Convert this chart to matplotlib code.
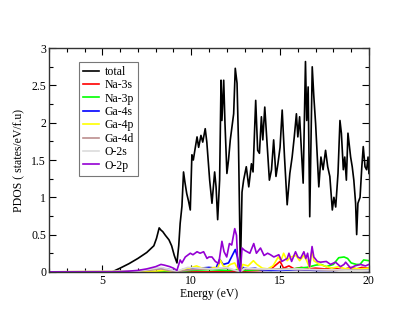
import matplotlib
matplotlib.use("Agg")
import matplotlib.pyplot as plt
from matplotlib.ticker import MultipleLocator

plt.rcParams['font.family'] = ['Liberation Serif', 'DejaVu Serif']

# total DOS
total_e = [2.0, 5.55, 6.0, 6.5, 7.0, 7.5, 7.9, 8.05, 8.2, 8.3, 8.4, 8.55, 8.75, 8.9, 9.05, 9.2,
           9.3, 9.38, 9.48, 9.57, 9.65, 9.75, 9.85, 9.95, 10.04, 10.12, 10.2, 10.33, 10.42, 10.55,
           10.65, 10.79, 10.88, 11.04, 11.17, 11.32, 11.4, 11.49, 11.6, 11.68, 11.73, 11.83, 11.9,
           12.01, 12.1, 12.2, 12.39, 12.48, 12.58, 12.66, 12.72, 12.77, 12.86, 12.95, 13.1, 13.24,
           13.39, 13.48, 13.63, 13.74, 13.84, 13.95, 14.03, 14.14, 14.27, 14.4, 14.52, 14.64, 14.77,
           14.88, 15.0, 15.12, 15.25, 15.4, 15.55, 15.68, 15.8, 15.92, 16.0, 16.1, 16.3, 16.43,
           16.5, 16.58, 16.67, 16.81, 16.9, 17.0, 17.18, 17.3, 17.42, 17.56, 17.68, 17.8, 17.94,
           18.03, 18.13, 18.26, 18.37, 18.45, 18.56, 18.64, 18.73, 18.82, 18.97, 19.06, 19.15,
           19.25, 19.31, 19.38, 19.5, 19.6, 19.68, 19.78, 19.87, 19.95, 20.0]
total_v = [0.0, 0.0, 0.05, 0.11, 0.18, 0.26, 0.35, 0.45, 0.59, 0.56, 0.54, 0.49, 0.43, 0.35, 0.22, 0.12,
           0.35, 0.65, 0.88, 1.34, 1.2, 1.05, 0.95, 0.83, 1.57, 1.5, 1.62, 1.81, 1.67, 1.83,
           1.74, 1.92, 1.74, 1.23, 0.92, 1.34, 1.14, 0.70, 1.23, 2.57, 2.03, 2.57, 2.0,
           1.32, 1.5, 1.77, 2.12, 2.73, 2.53, 1.74, 0.8, 0.03, 1.07, 1.23, 1.41, 1.14,
           1.45, 1.34, 2.30, 1.63, 1.59, 2.08, 1.77, 2.21, 1.72, 1.23, 1.37, 1.77, 1.28,
           1.45, 1.67, 2.17, 1.54, 0.90, 1.32, 1.54, 1.81, 2.12, 1.81, 2.08, 1.19, 2.82,
           2.03, 2.48, 0.74, 2.75, 2.35, 1.99, 1.14, 1.54, 1.37, 1.63, 1.41, 1.28, 0.83,
           1.0, 0.87, 1.32, 2.03, 1.86, 1.37, 1.54, 1.23, 1.86, 1.54, 1.41, 1.23,
           0.92, 0.5, 0.92, 1.0, 1.41, 1.68, 1.41, 1.37, 1.54, 1.32]

na3s_e = [2, 11, 12, 13, 14, 14.5, 14.8, 15.0, 15.2, 15.5, 15.8, 16.2, 16.6, 17, 17.5, 18, 18.5,
          19, 19.3, 19.6, 20]
na3s_v = [0, 0.0, 0.01, 0.01, 0.02, 0.04, 0.1, 0.14, 0.05, 0.08, 0.04, 0.06, 0.04, 0.05, 0.04, 0.05,
          0.03, 0.06, 0.04, 0.06, 0.05]

na3p_e = [2, 9.2, 10, 11, 12, 12.6, 13, 14, 14.5, 15, 15.5, 16, 16.5, 17, 17.3, 17.6, 18, 18.3,
          18.6, 18.8, 19.0, 19.3, 19.5, 19.7, 20]
na3p_v = [0, 0.0, 0.02, 0.03, 0.02, 0.03, 0.02, 0.03, 0.02, 0.04, 0.03, 0.05, 0.06, 0.09, 0.1, 0.07,
          0.1, 0.19, 0.2, 0.18, 0.12, 0.1, 0.1, 0.16, 0.15]

ga4s_e = [2, 6.0, 7.5, 8.3, 8.8, 9.2, 9.5, 10.0, 10.5, 11.0, 11.4, 11.6, 11.8, 12.1, 12.48, 12.6,
          12.77, 12.9, 13.2, 13.6, 14.0, 14.5, 15.0, 16.0, 17.0, 18.0, 19.0, 20]
ga4s_v = [0, 0.0, 0.02, 0.05, 0.03, 0.0, 0.03, 0.04, 0.05, 0.06, 0.05, 0.17, 0.1, 0.12, 0.3, 0.2,
          0.0, 0.06, 0.04, 0.05, 0.02, 0.02, 0.02, 0.03, 0.02, 0.02, 0.03, 0.02]

ga4p_e = [2, 8.0, 8.5, 9.2, 9.5, 9.9, 10.3, 10.6, 11.0, 11.3, 11.5, 11.64, 11.8, 12.0, 12.2, 12.45,
          12.6, 12.77, 12.9, 13.2, 13.5, 13.7, 14.0, 14.3, 14.6, 14.9, 15.05, 15.2, 15.4, 15.6,
          15.9, 16.1, 16.34, 16.5, 16.66, 16.8, 16.9, 17.2, 17.5, 17.9, 18.3, 18.7, 19.0, 19.5, 20]
ga4p_v = [0, 0.01, 0.02, 0.0, 0.03, 0.05, 0.08, 0.05, 0.04, 0.06, 0.05, 0.16, 0.08, 0.06, 0.1, 0.12,
          0.05, 0.0, 0.1, 0.08, 0.15, 0.1, 0.05, 0.04, 0.08, 0.2, 0.15, 0.25, 0.15, 0.2,
          0.22, 0.15, 0.22, 0.15, 0.05, 0.3, 0.15, 0.1, 0.08, 0.05, 0.07, 0.04, 0.05, 0.04, 0.05]

ga4d_e = [2, 7, 8.3, 9.2, 10, 11, 12, 12.77, 13, 14, 15, 16, 17, 18, 19, 20]
ga4d_v = [0, 0.01, 0.04, 0.0, 0.03, 0.04, 0.05, 0.0, 0.04, 0.03, 0.04, 0.03, 0.03, 0.02, 0.03, 0.02]

o2s_e = [2, 7, 8.3, 9.2, 9.8, 10.5, 11.2, 12, 12.77, 13, 14, 15, 16, 17, 18, 19, 20]
o2s_v = [0, 0.01, 0.06, 0.01, 0.06, 0.05, 0.04, 0.06, 0.0, 0.05, 0.04, 0.03, 0.04, 0.03, 0.03, 0.02, 0.02]

o2p_e = [2, 5.8, 6.5, 7.0, 7.5, 8.0, 8.3, 8.5, 8.8, 9.0, 9.2, 9.38, 9.48, 9.67, 9.95, 10.1, 10.33,
         10.5, 10.7, 10.89, 11.0, 11.17, 11.36, 11.55, 11.73, 11.85, 12.0, 12.15, 12.28, 12.45,
         12.55, 12.63, 12.77, 12.86, 13.0, 13.3, 13.52, 13.67, 13.9, 14.1, 14.3, 14.46, 14.65,
         14.93, 15.1, 15.4, 15.5, 15.65, 15.87, 16.0, 16.15, 16.34, 16.45, 16.55, 16.66, 16.8,
         16.9, 17.1, 17.28, 17.6, 17.84, 18.12, 18.4, 18.6, 18.69, 18.97, 19.2, 19.53, 19.8, 20]
o2p_v = [0, 0, 0.01, 0.02, 0.04, 0.07, 0.1, 0.09, 0.07, 0.05, 0.02, 0.16, 0.12, 0.2, 0.25, 0.23, 0.27,
         0.25, 0.27, 0.18, 0.2, 0.2, 0.14, 0.11, 0.41, 0.27, 0.2, 0.38, 0.36, 0.58,
         0.49, 0.07, 0.0, 0.32, 0.29, 0.25, 0.38, 0.25, 0.32, 0.22, 0.25, 0.23, 0.2,
         0.23, 0.14, 0.18, 0.25, 0.14, 0.27, 0.2, 0.18, 0.27, 0.18, 0.25, 0.07, 0.34,
         0.2, 0.14, 0.13, 0.14, 0.1, 0.13, 0.07, 0.1, 0.13, 0.05, 0.08, 0.1, 0.08, 0.1]

series = [
    ("total", total_e, total_v, "black"),
    ("Na-3s", na3s_e, na3s_v, "#ff0000"),
    ("Na-3p", na3p_e, na3p_v, "#00ff00"),
    ("Ga-4s", ga4s_e, ga4s_v, "#0000ff"),
    ("Ga-4p", ga4p_e, ga4p_v, "#ffff00"),
    ("Ga-4d", ga4d_e, ga4d_v, "#bc8f8f"),
    ("O-2s", o2s_e, o2s_v, "#dcdcdc"),
    ("O-2p", o2p_e, o2p_v, "#9400d3"),
]

fig = plt.figure(figsize=(4.15, 3.21), dpi=100)
ax = fig.add_axes([0.118, 0.153, 0.771, 0.697])

for name, e, v, c in series:
    ax.plot(e, v, color=c, lw=1.2, label=name)

ax.set_xlim(2, 20)
ax.set_ylim(0, 3)
ax.xaxis.set_major_locator(MultipleLocator(5))
ax.xaxis.set_minor_locator(MultipleLocator(1))
ax.yaxis.set_major_locator(MultipleLocator(0.5))
ax.yaxis.set_minor_locator(MultipleLocator(0.25))
ax.set_yticks([0, 0.5, 1, 1.5, 2, 2.5, 3])
ax.set_yticklabels(["0", "0.5", "1", "1.5", "2", "2.5", "3"])
ax.tick_params(which='both', direction='in', top=True, right=True, labelsize=8.5, pad=2)
ax.tick_params(which='major', length=5, width=0.8)
ax.tick_params(which='minor', length=3, width=0.8)
for s in ax.spines.values():
    s.set_linewidth(1.0)
    s.set_color('#333333')

ax.set_xlabel("Energy (eV)", fontsize=8.5, labelpad=1)
ax.set_ylabel("PDOS ( states/eV/f.u)", fontsize=8.5, labelpad=4)

leg = ax.legend(loc='upper left', bbox_to_anchor=(0.095, 0.94), fontsize=8.5, frameon=True,
                fancybox=False, handlelength=1.3, handletextpad=0.5, labelspacing=0.12,
                borderpad=0.35, borderaxespad=0)
leg.get_frame().set_edgecolor('#555555')
leg.get_frame().set_linewidth(0.8)

fig.savefig("out.png", dpi=100)
